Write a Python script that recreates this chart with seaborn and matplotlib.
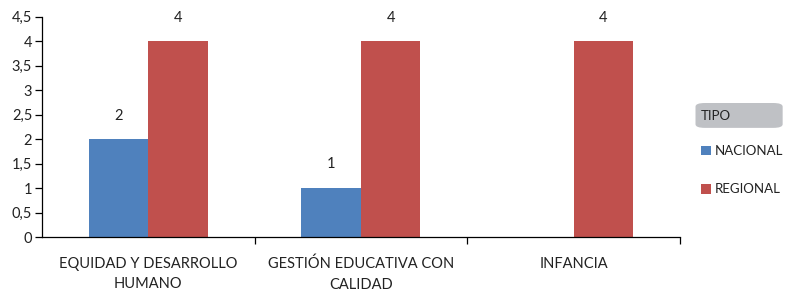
import pandas as pd
import matplotlib
matplotlib.use('Agg')
import matplotlib.pyplot as plt
import seaborn as sns
from matplotlib.patches import FancyBboxPatch, Patch
from matplotlib.ticker import FuncFormatter, FixedLocator

CATEGORIAS = ['EQUIDAD Y DESARROLLO\nHUMANO', 'GESTIÓN EDUCATIVA CON\nCALIDAD', 'INFANCIA']
TIPOS = ['NACIONAL', 'REGIONAL']
NACIONAL = [2, 1, 0]
REGIONAL = [4, 4, 4]
COLORES = ['#4F81BD', '#C0504D']

data = pd.DataFrame({
    'categoria': CATEGORIAS * 2,
    'tipo': ['NACIONAL'] * 3 + ['REGIONAL'] * 3,
    'valor': NACIONAL + REGIONAL,
})

sns.set_style('white')
plt.rcParams['font.family'] = ['Lato', 'DejaVu Sans']
plt.rcParams['xtick.bottom'] = True
plt.rcParams['ytick.left'] = True
FS = 10.5

fig = plt.figure(figsize=(7.85, 2.96), dpi=100)
ax = fig.add_axes([0.0535, 0.199, 0.8125, 0.744])

sns.barplot(data=data, x='categoria', y='valor', hue='tipo', order=CATEGORIAS,
            hue_order=TIPOS, palette=COLORES, width=0.56, saturation=1,
            linewidth=0, legend=False, ax=ax)

# value labels above bars (skip empty bars)
for cont in ax.containers:
    labels = ['%d' % b.get_height() if b.get_height() > 0 else '' for b in cont]
    ax.bar_label(cont, labels=labels, padding=12, fontsize=FS, color='#222222')

ax.set_xlim(-0.5, 2.5)
ax.set_ylim(0, 4.5)
ax.set_yticks([i * 0.5 for i in range(10)])
ax.yaxis.set_major_formatter(FuncFormatter(lambda v, p: ('%g' % v).replace('.', ',')))
ax.set_xlabel('')
ax.set_ylabel('')

for s in ['top', 'right']:
    ax.spines[s].set_visible(False)
for s in ['left', 'bottom']:
    ax.spines[s].set_color('#000000')
    ax.spines[s].set_linewidth(0.9)

ax.tick_params(axis='x', which='major', length=0, pad=14, labelsize=FS, colors='#222222')
for t in ax.get_xticklabels():
    t.set_linespacing(1.6)
ax.xaxis.set_minor_locator(FixedLocator([0.5, 1.5, 2.5]))
ax.tick_params(axis='x', which='minor', bottom=True, length=5, width=0.9, direction='out', color='#000000')
ax.tick_params(axis='y', left=True, length=5, width=0.9, direction='out', color='#000000',
               labelsize=FS, labelcolor='#222222', pad=2)

# legend
box = FancyBboxPatch((0.886, 0.568), 0.111, 0.084, boxstyle='round,pad=0,rounding_size=0.012',
                     transform=fig.transFigure, facecolor='#BFC1C5', edgecolor='none')
fig.patches.append(box)
fig.text(0.893, 0.608, 'TIPO', va='center', ha='left', fontsize=9.5, color='#222222')
handles = [Patch(facecolor=c, edgecolor='none') for c in COLORES]
fig.legend(handles, TIPOS, loc='upper left', bbox_to_anchor=(0.893, 0.51), frameon=False,
           borderpad=0, borderaxespad=0, handlelength=0.75, handleheight=0.75,
           handletextpad=0.3, labelspacing=2.0, fontsize=9.5, labelcolor='#222222')

fig.savefig('out.png', dpi=100)
